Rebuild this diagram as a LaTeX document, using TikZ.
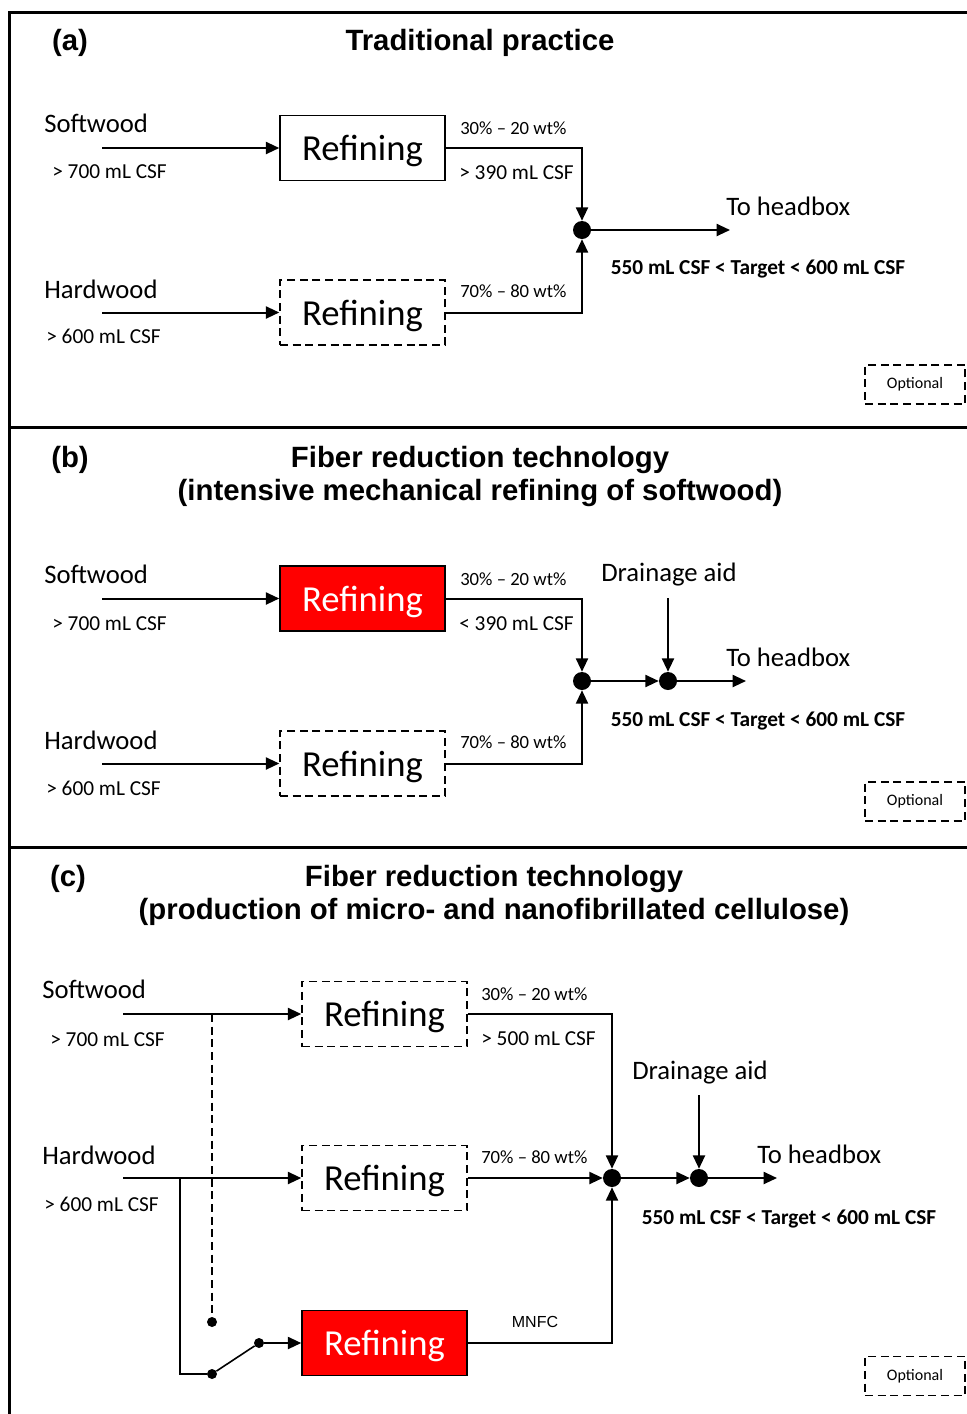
\documentclass[tikz,border=0pt]{standalone}
\usepackage{fontspec}
\setmainfont{Carlito}
\newfontfamily\arialf{Liberation Sans}
\usetikzlibrary{arrows.meta}
\begin{document}
\begin{tikzpicture}[x=0.75pt,y=-0.75pt,
  frameline/.style={line width=2.25pt},
  refbox/.style={draw, line width=1.1pt, minimum width=123.75pt, minimum height=48.75pt, inner sep=0pt, text height=24pt, text depth=5pt, font=\fontsize{27.5}{32}\selectfont},
  dashbox/.style={refbox, dash pattern=on 6pt off 3.5pt},
  redbox/.style={refbox, fill=red, text=white},
  flow/.style={line width=1.5pt, -{Triangle[length=10pt,width=9pt]}},
  conn/.style={line width=1.2pt},
  bigdot/.style={circle, fill, inner sep=0pt, minimum size=13.5pt},
  smalldot/.style={circle, fill, inner sep=0pt, minimum size=7.5pt},
  lbl/.style={font=\fontsize{20}{24}\selectfont, inner sep=0pt, anchor=west},
  csf/.style={font=\fontsize{16}{19}\selectfont, inner sep=0pt, anchor=west},
  wt/.style={font=\fontsize{14}{17}\selectfont, inner sep=0pt, anchor=west},
  target/.style={font=\bfseries\fontsize{16}{19}\selectfont, inner sep=0pt},
  ttl/.style={font=\arialf\bfseries\fontsize{22}{26}\selectfont, inner sep=0pt},
  mnfc/.style={font=\arialf\fontsize{12}{14}\selectfont, inner sep=0pt},
  legend/.style={draw, line width=1.1pt, dash pattern=on 6pt off 3.5pt, minimum width=75pt, minimum height=29.25pt, inner sep=0pt, font=\fontsize{12}{14}\selectfont}
]
\useasboundingbox (0,0) rectangle (967,1414);
% frame
\draw[frameline] (967,12) -- (9,12) -- (9,1414);
\draw[frameline] (9,427) -- (967,427);
\draw[frameline] (9,847) -- (967,847);

% ---------- panel (a)
\node[ttl] (ta) at (70,43) {(a)};
\node[ttl] (tta) at (480,43) {Traditional practice};
\node[lbl] (swa) at (44,123) {Softwood};
\node[csf] (swca) at (52,172) {> 700 mL CSF};
\node[refbox] (ra1) at (362.5,148) {Refining};
\coordinate (ina1) at (102,148);
\draw[flow] (ina1) -- (ra1.west);
\node[wt] (wa1) at (460,128) {30\% – 20 wt\%};
\node[csf] (ca1) at (459,173) {> 390 mL CSF};
\node[bigdot] (da) at (582,230) {};
\draw[flow] (ra1.east) -| (da);
\node[lbl] (hwa) at (44,289) {Hardwood};
\node[csf] (hwca) at (46,336) {> 600 mL CSF};
\node[dashbox] (ra2) at (362.5,312.5) {Refining};
\coordinate (ina2) at (102,312.5);
\draw[flow] (ina2) -- (ra2.west);
\node[wt] (wa2) at (460,291) {70\% – 80 wt\%};
\draw[flow] (ra2.east) -| (da);
\coordinate (outa) at (730,230);
\draw[flow] (da) -- (outa);
\node[lbl] (hba) at (726,206) {To headbox};
\node[target] (tga) at (758,269) {550 mL CSF < Target < 600 mL CSF};
\node[legend] (oa) at (915,384.5) {Optional};

% ---------- panel (b)
\node[ttl] (tb) at (70,460) {(b)};
\node[ttl] (ttb1) at (480,460) {Fiber reduction technology};
\node[ttl] (ttb2) at (480,493) {(intensive mechanical refining of softwood)};
\node[lbl] (swb) at (44,574) {Softwood};
\node[csf] (swcb) at (52,624) {> 700 mL CSF};
\node[redbox] (rb1) at (362.5,598.5) {Refining};
\coordinate (inb1) at (102,598.5);
\draw[flow] (inb1) -- (rb1.west);
\node[wt] (wb1) at (460,579) {30\% – 20 wt\%};
\node[csf] (cb1) at (459,624) {< 390 mL CSF};
\node[bigdot] (db1) at (582,681) {};
\node[bigdot] (db2) at (668,681) {};
\draw[flow] (rb1.east) -| (db1);
\node[lbl] (hwb) at (44,740) {Hardwood};
\node[csf] (hwcb) at (46,788) {> 600 mL CSF};
\node[dashbox] (rb2) at (362.5,763.5) {Refining};
\coordinate (inb2) at (102,763.5);
\draw[flow] (inb2) -- (rb2.west);
\node[wt] (wb2) at (460,742) {70\% – 80 wt\%};
\draw[flow] (rb2.east) -| (db1);
\draw[flow] (db1) -- (db2);
\node[lbl] (dab) at (601,575) {Drainage aid};
\coordinate (dainb) at (668,598);
\draw[flow] (dainb) -- (db2);
\coordinate (outb) at (746,681);
\draw[flow] (db2) -- (outb);
\node[lbl] (hbb) at (726,657) {To headbox};
\node[target] (tgb) at (758,721) {550 mL CSF < Target < 600 mL CSF};
\node[legend] (ob) at (915,801.5) {Optional};

% ---------- panel (c)
\node[ttl] (tc) at (68,879) {(c)};
\node[ttl] (ttc1) at (494,879) {Fiber reduction technology};
\node[ttl] (ttc2) at (494,912) {(production of micro- and nanofibrillated cellulose)};
\node[lbl] (swc) at (42,989) {Softwood};
\node[csf] (swcc) at (50,1040) {> 700 mL CSF};
\node[dashbox] (rc1) at (384.5,1014) {Refining};
\coordinate (inc1) at (123,1014);
\draw[flow] (inc1) -- (rc1.west);
\node[wt] (wc1) at (481,994) {30\% – 20 wt\%};
\node[csf] (cc1) at (481,1039) {> 500 mL CSF};
\node[bigdot] (dc1) at (612,1178) {};
\node[bigdot] (dc2) at (699,1178) {};
\draw[flow] (rc1.east) -| (dc1);
\node[lbl] (hwc) at (42,1155) {Hardwood};
\node[csf] (hwcc) at (44,1204) {> 600 mL CSF};
\node[dashbox] (rc2) at (384.5,1178) {Refining};
\coordinate (inc2) at (123,1178);
\draw[flow] (inc2) -- (rc2.west);
\node[wt] (wc2) at (481,1157) {70\% – 80 wt\%};
\draw[flow] (rc2.east) -- (dc1);
\draw[flow] (dc1) -- (dc2);
\node[lbl] (dac) at (632,1073) {Drainage aid};
\coordinate (dainc) at (699,1095);
\draw[flow] (dainc) -- (dc2);
\coordinate (outc) at (777,1178);
\draw[flow] (dc2) -- (outc);
\node[lbl] (hbc) at (757,1154) {To headbox};
\node[target] (tgc) at (789,1219) {550 mL CSF < Target < 600 mL CSF};
% MNFC branch
\node[redbox] (rc3) at (384.5,1343) {Refining};
\node[mnfc] (mn) at (535,1322) {MNFC};
\node[smalldot] (sc1) at (212,1322) {};
\node[smalldot] (sc2) at (212,1374) {};
\node[smalldot] (sc3) at (259,1343) {};
\coordinate (tapS) at (212,1014);
\coordinate (tapH) at (180,1178);
\draw[conn, dash pattern=on 6pt off 3.5pt] (tapS) -- (sc1);
\draw[conn] (tapH) |- (sc2);
\draw[conn] (sc2) -- (sc3);
\draw[flow] (sc3) -- (rc3.west);
\draw[flow] (rc3.east) -| (dc1);
\node[legend] (oc) at (915,1376) {Optional};
\end{tikzpicture}
\end{document}
